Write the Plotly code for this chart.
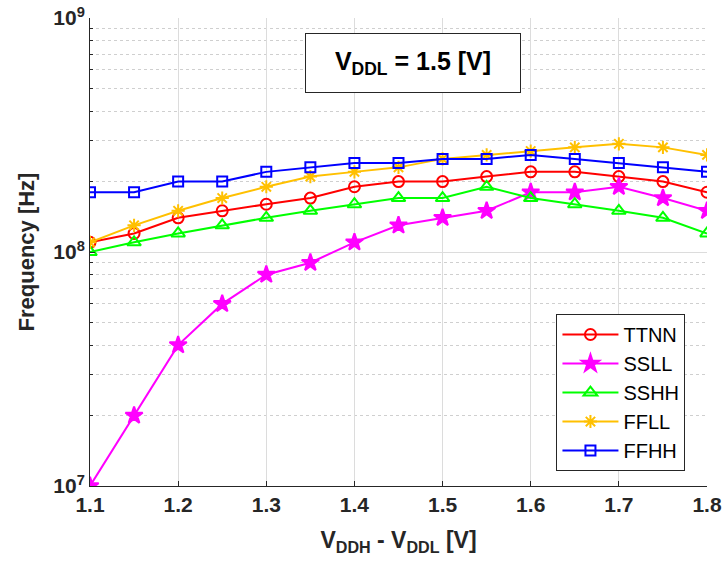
import plotly.graph_objects as go

x_vals = [1.1, 1.15, 1.2, 1.25, 1.3, 1.35, 1.4, 1.45, 1.5, 1.55, 1.6, 1.65, 1.7, 1.75, 1.8]
ttnn = [1.1e8, 1.2e8, 1.4e8, 1.5e8, 1.6e8, 1.7e8, 1.9e8, 2.0e8, 2.0e8, 2.1e8, 2.2e8, 2.2e8, 2.1e8, 2.0e8, 1.8e8]
ssll = [1.0e7, 2.0e7, 4.0e7, 6.0e7, 8.0e7, 9.0e7, 1.1e8, 1.3e8, 1.4e8, 1.5e8, 1.8e8, 1.8e8, 1.9e8, 1.7e8, 1.5e8]
sshh = [1.0e8, 1.1e8, 1.2e8, 1.3e8, 1.4e8, 1.5e8, 1.6e8, 1.7e8, 1.7e8, 1.9e8, 1.7e8, 1.6e8, 1.5e8, 1.4e8, 1.2e8]
ffll = [1.1e8, 1.3e8, 1.5e8, 1.7e8, 1.9e8, 2.1e8, 2.2e8, 2.3e8, 2.5e8, 2.6e8, 2.7e8, 2.8e8, 2.9e8, 2.8e8, 2.6e8]
ffhh = [1.8e8, 1.8e8, 2.0e8, 2.0e8, 2.2e8, 2.3e8, 2.4e8, 2.4e8, 2.5e8, 2.5e8, 2.6e8, 2.5e8, 2.4e8, 2.3e8, 2.2e8]

x_ticks = [1.1, 1.2, 1.3, 1.4, 1.5, 1.6, 1.7, 1.8]
x_ticktext = ["1.1", "1.2", "1.3", "1.4", "1.5", "1.6", "1.7", "1.8"]
y_ticks = [1e7, 1e8, 1e9]
y_ticktext = ["10<sup>7</sup>", "10<sup>8</sup>", "10<sup>9</sup>"]
y_minor = [m * 10 ** e for e in (7, 8) for m in range(2, 10)]

FONT = "Liberation Sans, Arial, sans-serif"
DARK = "#262626"

series = [
    ("TTNN", ttnn, "#FF0000", "circle-open", 11),
    ("SSLL", ssll, "#FF00FF", "star", 13),
    ("SSHH", sshh, "#00FF00", "triangle-up-open", 12),
    ("FFLL", ffll, "#FFC000", "asterisk-open", 11),
    ("FFHH", ffhh, "#0000FF", "square-open", 10),
]

fig = go.Figure()
for name, ys, color, sym, size in series:
    fig.add_trace(go.Scatter(
        x=x_vals, y=ys, name=name, mode="lines+markers",
        line=dict(color=color, width=2),
        marker=dict(symbol=sym, size=size, color=color,
                    line=dict(color=color, width=2)),
    ))

fig.update_layout(
    width=726, height=569,
    margin=dict(l=90, r=19, t=18, b=83, autoexpand=False),
    paper_bgcolor="white", plot_bgcolor="white",
    font=dict(family=FONT, color=DARK),
    showlegend=True,
    legend=dict(
        x=0.756, y=0.032, xanchor="left", yanchor="bottom",
        bgcolor="white", bordercolor=DARK, borderwidth=1,
        font=dict(family=FONT, size=20, color="black"),
        tracegroupgap=0, itemwidth=56,
    ),
    xaxis=dict(
        range=[1.1, 1.8], tickvals=x_ticks, ticktext=x_ticktext,
        ticks="inside", ticklen=5, tickcolor=DARK,
        showline=True, linecolor=DARK, linewidth=1, mirror=False,
        showgrid=True, gridcolor="#dcdcdc", gridwidth=1,
        zeroline=False, automargin=False, ticklabeloverflow="allow",
        tickfont=dict(family=FONT, size=21, color=DARK, weight="bold"),
        title=dict(text="V<sub>DDH</sub> - V<sub>DDL</sub> [V]",
                   font=dict(family=FONT, size=23, color=DARK, weight="bold"),
                   standoff=16),
    ),
    yaxis=dict(
        type="log", range=[7, 9], tickvals=y_ticks, ticktext=y_ticktext,
        ticks="inside", ticklen=5, tickcolor=DARK,
        showline=True, linecolor=DARK, linewidth=1, mirror=False,
        showgrid=True, gridcolor="#dcdcdc", gridwidth=1,
        zeroline=False, automargin=False, ticklabeloverflow="allow",
        tickfont=dict(family=FONT, size=21, color=DARK, weight="bold"),
        minor=dict(tickvals=y_minor, ticks="inside", ticklen=3, tickcolor=DARK,
                   showgrid=True, gridcolor="#cfcfcf", griddash="dot", gridwidth=1),
        title=dict(text="Frequency [Hz]",
                   font=dict(family=FONT, size=22, color=DARK, weight="bold"),
                   standoff=12),
    ),
    annotations=[dict(
        xref="paper", yref="paper", x=0.524, y=0.903,
        xanchor="center", yanchor="middle", showarrow=False,
        text="V<sub>DDL</sub> = 1.5 [V]",
        font=dict(family=FONT, size=25, color="black", weight="bold"),
        bgcolor="white", bordercolor=DARK, borderwidth=1, borderpad=4,
        width=206, height=50,
    )],
)

fig.write_html(
    "out.html",
    config={"displayModeBar": False},
    post_script="document.body.style.margin='0';document.body.style.overflow='hidden';",
)
